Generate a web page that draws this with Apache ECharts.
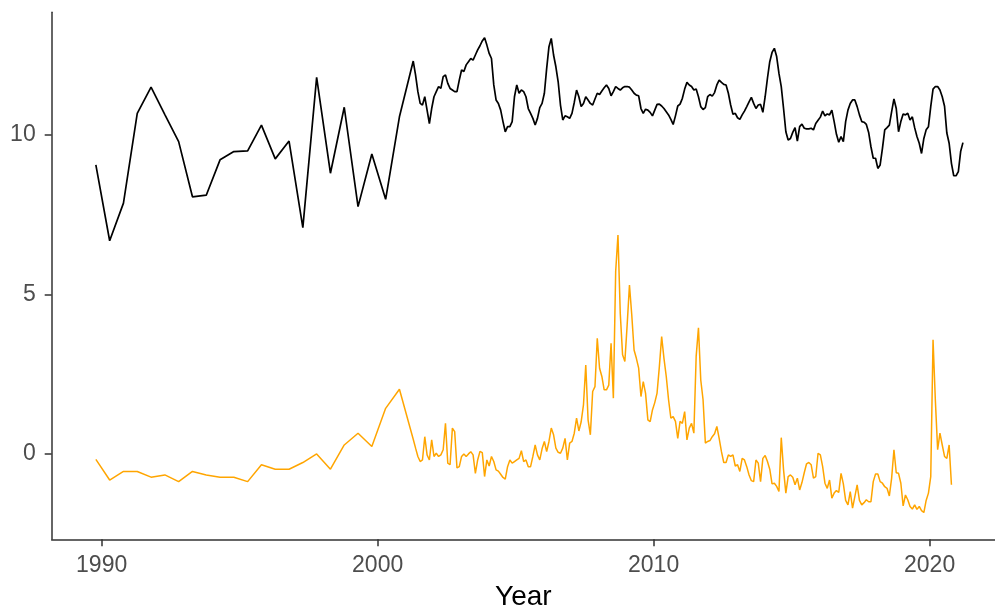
<!DOCTYPE html>
<html>
<head>
<meta charset="utf-8">
<title>Year</title>
<script src="https://cdn.jsdelivr.net/npm/echarts@6/dist/echarts.min.js"></script>
<style>
  html, body { margin: 0; padding: 0; background: #ffffff; }
  #chart { width: 995px; height: 614px; }
</style>
</head>
<body>
<div id="chart"></div>
<script>
// Time index: half-yearly observations up to spring 2001, monthly afterwards.
const earlyStart = 1989.79;
const earlyStep = 0.5;
const monthlyStart = 2001.375;
const monthlyStep = 1 / 12;

// Black series, half-yearly part
const blackEarly = [
  9.06, 6.68, 7.86, 10.68, 11.50, 10.64, 9.79, 8.06, 8.11, 9.22, 9.48, 9.50,
  10.31, 9.25, 9.81, 7.09, 11.81, 8.80, 10.87, 7.75, 9.40, 7.98, 10.57, 12.32
];

// Black series, monthly part
const blackMonthly = [
  11.88, 11.36, 10.99, 10.94, 11.20, 10.78, 10.36, 10.83, 11.20, 11.36,
  11.52, 11.46, 11.83, 11.88, 11.62, 11.46, 11.41, 11.36, 11.36, 11.72,
  12.04, 11.99, 12.20, 12.30, 12.40, 12.35, 12.51, 12.67, 12.80, 12.95,
  13.05, 12.82, 12.56, 12.40, 11.57, 11.10, 10.99, 10.78, 10.42, 10.10,
  10.26, 10.26, 10.42, 11.20, 11.57, 11.31, 11.41, 11.36, 11.20, 10.83,
  10.68, 10.52, 10.31, 10.52, 10.86, 10.99, 11.31, 12.09, 12.77, 13.03,
  12.51, 12.14, 11.67, 10.94, 10.47, 10.60, 10.57, 10.52, 10.68, 11.02,
  11.41, 11.20, 10.89, 10.99, 11.20, 11.10, 10.99, 10.94, 11.13, 11.31,
  11.27, 11.38, 11.48, 11.57, 11.46, 11.23, 11.36, 11.52, 11.46, 11.41,
  11.48, 11.52, 11.52, 11.50, 11.41, 11.31, 11.25, 11.23, 10.83, 10.68,
  10.81, 10.78, 10.71, 10.60, 10.78, 10.96,
  10.97, 10.91, 10.83, 10.73, 10.63, 10.49, 10.33, 10.60, 10.91, 10.97,
  11.15, 11.44, 11.65, 11.57, 11.52, 11.41, 11.44, 11.20, 10.89, 10.80,
  10.86, 11.20, 11.27, 11.22, 11.33, 11.57, 11.72, 11.65, 11.59, 11.57,
  11.31, 10.94, 10.65, 10.68, 10.54, 10.49, 10.63, 10.75, 10.89, 11.04,
  11.18, 10.99, 10.83, 10.94, 10.96, 10.71, 11.20, 11.78, 12.30, 12.59,
  12.72, 12.46, 11.93, 11.52, 10.83, 10.10, 9.84,
  9.89, 10.08, 10.23, 9.81, 10.26, 10.34, 10.21, 10.19, 10.19, 10.21,
  10.16, 10.36, 10.46, 10.56, 10.75, 10.60, 10.66, 10.63, 10.78, 10.42,
  10.02, 9.77, 9.95, 9.79, 10.42, 10.78, 10.99, 11.10, 11.10, 10.89,
  10.63, 10.42, 10.40, 10.33, 10.08, 9.63, 9.27, 9.27, 8.95, 9.06,
  9.58, 10.16, 10.23, 10.31, 10.73, 11.13, 10.83, 10.10, 10.42, 10.66,
  10.63, 10.68, 10.47, 10.57, 10.23, 9.95, 9.74, 9.42, 9.89, 10.16,
  10.26, 10.89, 11.44, 11.52, 11.52, 11.41, 11.20, 10.90,
  10.06, 9.74, 9.11, 8.72, 8.72, 8.85, 9.48, 9.76
];

// Orange series, half-yearly part
const orangeEarly = [
  -0.18, -0.83, -0.56, -0.56, -0.74, -0.67, -0.88, -0.56, -0.67, -0.74, -0.74, -0.88,
  -0.35, -0.49, -0.49, -0.28, -0.01, -0.49, 0.27, 0.64, 0.22, 1.42, 2.02, 0.45
];

// Orange series, monthly part
const orangeMonthly = [
  0.17, -0.09, -0.25, -0.20, 0.53, -0.04, -0.20, 0.43, -0.09, 0.01,
  -0.09, -0.04, 0.12, 0.95, -0.30, -0.35, 0.80, 0.69, -0.45, -0.41,
  -0.09, -0.01, -0.09, -0.01, 0.06, -0.04, -0.62, -0.20, 0.07, 0.03,
  -0.72, -0.20, -0.39, -0.09, -0.25, -0.51, -0.55, -0.65, -0.75, -0.80,
  -0.41, -0.20, -0.30, -0.25, -0.20, -0.15, 0.09, -0.25, -0.20, -0.41,
  -0.41, -0.09, 0.27, -0.04, -0.20, 0.15, 0.38, 0.06, 0.38, 0.80,
  0.59, 0.17, 0.04, 0.01, 0.17, 0.48, -0.20, 0.33, 0.38, 0.64,
  1.11, 0.71, 1.00, 1.53, 2.78, 1.06, 0.59, 1.95, 2.10, 3.62,
  2.68, 2.42, 2.00, 2.00, 2.15, 3.46, 1.74, 5.71, 6.86, 4.40,
  3.10, 2.89, 4.04, 5.29, 4.35, 3.25, 2.99, 2.68, 1.79, 2.26,
  1.89, 1.06, 1.00, 1.37, 1.60, 1.90,
  2.73, 3.67, 2.99, 2.42, 1.69, 1.11, 1.16, 1.01, 0.48, 1.01,
  0.95, 1.32, 0.43, 0.80, 0.95, 0.64, 3.05, 3.95, 2.31, 1.69,
  0.33, 0.38, 0.41, 0.53, 0.62, 0.85, 0.48, 0.06, -0.28, -0.28,
  -0.04, -0.09, -0.04, -0.39, -0.35, -0.56, -0.15, -0.20, -0.41, -0.67,
  -0.85, -0.88, -0.20, -0.30, -0.88, -0.15, -0.06, -0.25, -0.49, -0.95,
  -0.93, -1.03, -1.19, 0.50, -0.51, -1.24, -0.72,
  -0.67, -0.74, -0.98, -0.77, -1.14, -0.91, -0.60, -0.32, -0.28, -0.35,
  -0.77, -0.72, 0.01, -0.04, -0.41, -0.93, -1.09, -0.83, -1.40, -1.24,
  -1.16, -1.22, -0.62, -0.95, -1.47, -1.61, -1.19, -1.71, -1.35, -0.98,
  -1.47, -1.61, -1.54, -1.45, -1.51, -1.51, -0.88, -0.64, -0.64, -0.88,
  -0.93, -1.04, -1.09, -1.33, -0.77, 0.12, -0.60, -0.62, -0.93, -1.64,
  -1.30, -1.45, -1.66, -1.74, -1.61, -1.75, -1.66, -1.79, -1.85, -1.47,
  -1.24, -0.72, 3.57, 1.68, 0.12, 0.64, 0.27, -0.09,
  -0.15, 0.27, -0.98
];

const xTicks = [1990, 2000, 2010, 2020];
const yTicks = [0, 5, 10];
const xTitle = 'Year';

// Pair each value with its decimal-year position on the time index.
function withYears(early, monthly) {
  const pts = [];
  early.forEach((v, i) => pts.push([earlyStart + i * earlyStep, v]));
  monthly.forEach((v, i) => pts.push([monthlyStart + i * monthlyStep, v]));
  return pts;
}

const FONT = 'Arial, "Liberation Sans", Helvetica, sans-serif';
const chart = echarts.init(document.getElementById('chart'), null, { renderer: 'canvas' });

chart.setOption({
  animation: false,
  backgroundColor: '#ffffff',
  grid: { left: 51.7, right: 0, top: 12.3, bottom: 74.7, containLabel: false, outerBoundsMode: 'none' },
  xAxis: {
    type: 'value',
    min: 1988.19,
    max: 2022.37,
    name: xTitle,
    nameLocation: 'middle',
    nameGap: 44,
    nameTextStyle: { color: '#000000', fontSize: 28, fontFamily: FONT, lineHeight: 28 },
    axisLine: { show: true, onZero: false, lineStyle: { color: '#333333', width: 1.5 } },
    axisTick: { show: true, length: 7, customValues: xTicks, lineStyle: { color: '#333333', width: 1.5 } },
    axisLabel: {
      customValues: xTicks, margin: 15, color: '#4d4d4d', fontSize: 23, fontFamily: FONT, lineHeight: 23,
      formatter: v => String(v)
    },
    splitLine: { show: false }
  },
  yAxis: {
    type: 'value',
    min: -2.69,
    max: 13.85,
    axisLine: { show: true, onZero: false, lineStyle: { color: '#333333', width: 1.5 } },
    axisTick: { show: true, length: 7, customValues: yTicks, lineStyle: { color: '#333333', width: 1.5 } },
    axisLabel: {
      customValues: yTicks, margin: 16, color: '#4d4d4d', fontSize: 23, fontFamily: FONT,
      formatter: v => String(v)
    },
    splitLine: { show: false }
  },
  series: [
    {
      type: 'line',
      data: withYears(blackEarly, blackMonthly),
      showSymbol: false,
      symbol: 'none',
      lineStyle: { color: '#000000', width: 1.7 },
      itemStyle: { color: '#000000' },
      z: 3
    },
    {
      type: 'line',
      data: withYears(orangeEarly, orangeMonthly),
      showSymbol: false,
      symbol: 'none',
      lineStyle: { color: '#ffa500', width: 1.5 },
      itemStyle: { color: '#ffa500' },
      z: 2
    }
  ]
});
</script>
</body>
</html>
